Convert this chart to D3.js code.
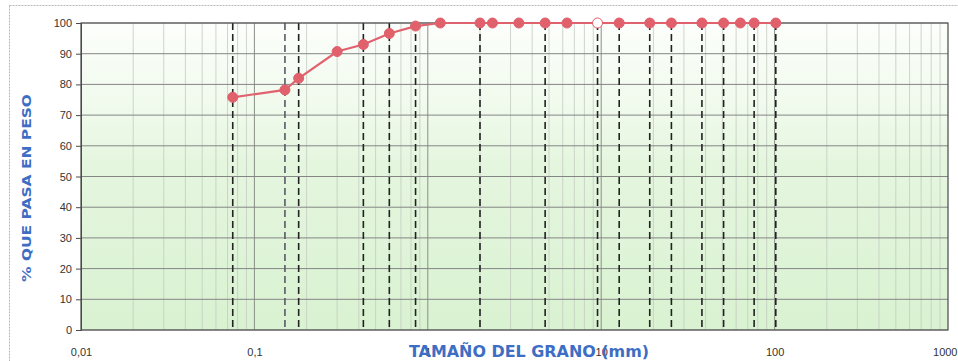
<!DOCTYPE html>
<html>
<head>
<meta charset="utf-8">
<script src="https://cdn.jsdelivr.net/npm/d3@7"></script>
<style>
  html, body { margin: 0; padding: 0; background: #ffffff; }
  svg { display: block; }
</style>
</head>
<body>
<svg id="chart" width="958" height="361"></svg>
<script>
// Granulometric curve: sieve openings (mm) and percentage passing
const sieveSizes = [101.6, 76.2, 63.5, 50.8, 38.1, 25.4, 19.05, 12.7, 9.525, 6.35, 4.75, 3.35, 2.36, 2.0, 1.18, 0.85, 0.6, 0.425, 0.3, 0.18, 0.15, 0.075];
const percentPassing = [100, 100, 100, 100, 100, 100, 100, 100, 100, 100, 100, 100, 100, 100, 100, 99.0, 96.6, 93.0, 90.7, 82.0, 78.2, 75.8];
// Sieves marked with dashed reference lines
const markedSieves = [0.075, 0.15, 0.18, 0.425, 0.6, 0.85, 2.0, 4.75, 9.525, 12.7, 19.05, 25.4, 38.1, 50.8, 76.2, 101.6];
const openMarkerSieve = 9.525;
// Axis ticks
const xTickValues = [0.01, 0.1, 1, 10, 100, 1000];
const xTickLabels = ["0,01", "0,1", "1", "10", "100", "1000"];
const yTickValues = [0, 10, 20, 30, 40, 50, 60, 70, 80, 90, 100];

const svg = d3.select("#chart");
const plotLeft = 81, plotRight = 948, plotTop = 23, plotBottom = 330;

const x = d3.scaleLog().domain([0.01, 1000]).range([plotLeft, plotRight]);
const y = d3.scaleLinear().domain([0, 100]).range([plotBottom, plotTop]);

// outer frame
svg.append("rect")
  .attr("x", 9.5).attr("y", 5.5).attr("width", 960).attr("height", 370)
  .attr("fill", "none").attr("stroke", "#b8b8b8").attr("stroke-dasharray", "2,1");

// plot background gradient
const defs = svg.append("defs");
const grad = defs.append("linearGradient").attr("id", "bg").attr("x1", 0).attr("y1", 0).attr("x2", 0).attr("y2", 1);
grad.append("stop").attr("offset", "0%").attr("stop-color", "#fcfefb");
grad.append("stop").attr("offset", "28%").attr("stop-color", "#f0faec");
grad.append("stop").attr("offset", "45%").attr("stop-color", "#e5f6df");
grad.append("stop").attr("offset", "100%").attr("stop-color", "#d9f2d1");

svg.append("rect")
  .attr("x", plotLeft).attr("y", plotTop)
  .attr("width", plotRight - plotLeft).attr("height", plotBottom - plotTop)
  .attr("fill", "url(#bg)");

// minor vertical log grid
const minorTicks = x.ticks().filter(v => !xTickValues.some(t => Math.abs(t - v) < 1e-9));
svg.append("g").selectAll("line").data(minorTicks).join("line")
  .attr("x1", d => x(d)).attr("x2", d => x(d))
  .attr("y1", plotTop).attr("y2", plotBottom)
  .attr("stroke", "#c4cbc2").attr("stroke-width", 0.8);

// decade lines
svg.append("g").selectAll("line").data(xTickValues.slice(1, -1)).join("line")
  .attr("x1", d => x(d)).attr("x2", d => x(d))
  .attr("y1", plotTop).attr("y2", plotBottom)
  .attr("stroke", "#8a8f88").attr("stroke-width", 1);

// horizontal grid
svg.append("g").selectAll("line").data(yTickValues).join("line")
  .attr("x1", plotLeft).attr("x2", plotRight)
  .attr("y1", d => y(d)).attr("y2", d => y(d))
  .attr("stroke", "#858585").attr("stroke-width", 1);

// dashed sieve lines
svg.append("g").selectAll("line").data(markedSieves).join("line")
  .attr("x1", d => x(d)).attr("x2", d => x(d))
  .attr("y1", plotTop).attr("y2", plotBottom)
  .attr("stroke", d => d === 0.15 ? "#555a66" : "#222222")
  .attr("stroke-width", 1.6)
  .attr("stroke-dasharray", "7,4");

// plot frame
svg.append("path")
  .attr("d", `M${plotLeft},${plotTop}H${plotRight}V${plotBottom}H${plotLeft}Z`)
  .attr("fill", "none").attr("stroke", "#4a4a4a").attr("stroke-width", 1.2);

// y axis
const yAxis = d3.axisLeft(y).tickValues(yTickValues).tickSize(5).tickPadding(4);
const gy = svg.append("g").attr("transform", `translate(${plotLeft},0)`).call(yAxis);
gy.select(".domain").attr("stroke", "#4a4a4a");
gy.selectAll(".tick line").attr("stroke", "#4a4a4a");
gy.selectAll(".tick text")
  .attr("font-family", "Liberation Sans, Arial, sans-serif")
  .attr("font-size", 11).attr("fill", "#333333");

// x axis
const xAxis = d3.axisBottom(x).tickValues(xTickValues)
  .tickFormat((d, i) => xTickLabels[i]).tickSize(0).tickPadding(18);
const gx = svg.append("g").attr("transform", `translate(0,${plotBottom})`).call(xAxis);
gx.select(".domain").remove();
gx.selectAll(".tick text")
  .attr("font-family", "Liberation Sans, Arial, sans-serif")
  .attr("font-size", 11).attr("fill", "#333333");
// keep the last label inside the canvas
gx.selectAll(".tick text").filter(d => d === 1000)
  .attr("text-anchor", "end").attr("dx", 9);

// grading curve
const pts = sieveSizes.map((s, i) => ({ s, p: percentPassing[i] }));
svg.append("path")
  .datum(pts)
  .attr("d", d3.line().x(d => x(d.s)).y(d => y(d.p)))
  .attr("fill", "none").attr("stroke", "#e0626e").attr("stroke-width", 2.2);

svg.append("g").selectAll("circle").data(pts).join("circle")
  .attr("cx", d => x(d.s)).attr("cy", d => y(d.p)).attr("r", 5)
  .attr("fill", d => d.s === openMarkerSieve ? "#ffffff" : "#e0606c")
  .attr("stroke", "#e0606c").attr("stroke-width", 1);

// axis titles
svg.append("text")
  .attr("x", 529).attr("y", 357)
  .attr("text-anchor", "middle")
  .attr("font-family", "DejaVu Sans, sans-serif").attr("font-weight", "bold")
  .attr("font-size", 16).attr("fill", "#3d6ec4")
  .attr("textLength", 240).attr("lengthAdjust", "spacingAndGlyphs")
  .text("TAMAÑO DEL GRANO (mm)");

svg.append("text")
  .attr("transform", "translate(31,188) rotate(-90)")
  .attr("text-anchor", "middle")
  .attr("font-family", "DejaVu Sans, sans-serif").attr("font-weight", "bold")
  .attr("font-size", 13).attr("fill", "#3d6ec4")
  .attr("textLength", 188).attr("lengthAdjust", "spacingAndGlyphs")
  .text("% QUE PASA EN PESO");
</script>
</body>
</html>
